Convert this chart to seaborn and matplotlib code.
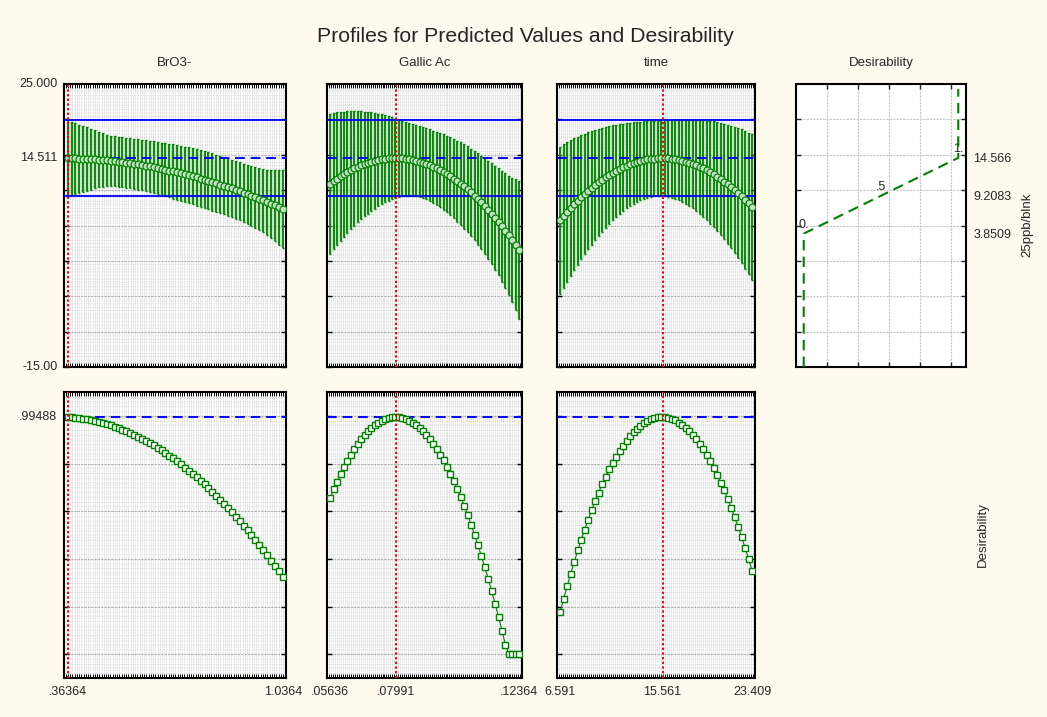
import numpy as np
import matplotlib
matplotlib.use("Agg")
import matplotlib.pyplot as plt
import seaborn as sns
from matplotlib.ticker import MultipleLocator, FixedLocator, FixedFormatter

# ---------------- data ----------------
factor_names = ["BrO3-", "Gallic Ac", "time"]
factor_lo = [0.36364, 0.05636, 6.591]
factor_hi = [1.0364, 0.12364, 23.409]
factor_current = [0.36364, 0.07991, 15.561]
factor_tick_values = [[0.36364, 1.0364], [0.05636, 0.07991, 0.12364], [6.591, 15.561, 23.409]]
factor_tick_labels = [[".36364", "1.0364"], [".05636", ".07991", ".12364"], ["6.591", "15.561", "23.409"]]
n_points = 56

bro3_mean = [14.51, 14.50, 14.48, 14.46, 14.44, 14.41, 14.37, 14.34, 14.29, 14.25,
             14.19, 14.14, 14.08, 14.01, 13.95, 13.87, 13.79, 13.71, 13.63, 13.53,
             13.44, 13.34, 13.23, 13.13, 13.01, 12.90, 12.77, 12.65, 12.52, 12.38,
             12.24, 12.10, 11.95, 11.80, 11.64, 11.48, 11.32, 11.15, 10.97, 10.79,
             10.61, 10.42, 10.23, 10.03, 9.83, 9.63, 9.42, 9.20, 8.98, 8.76,
             8.54, 8.30, 8.07, 7.83, 7.58, 7.33]
bro3_halfwidth = [5.36, 5.18, 5.00, 4.80, 4.64, 4.48, 4.30, 4.10, 3.90, 3.76,
                  3.64, 3.56, 3.53, 3.51, 3.50, 3.50, 3.51, 3.53, 3.55, 3.57,
                  3.60, 3.62, 3.65, 3.69, 3.72, 3.76, 3.80, 3.84, 3.86, 3.89,
                  3.92, 3.95, 3.97, 4.00, 4.01, 4.02, 4.02, 4.03, 4.03, 4.03,
                  4.04, 4.05, 4.06, 4.08, 4.10, 4.13, 4.17, 4.21, 4.28, 4.36,
                  4.46, 4.60, 4.82, 5.05, 5.28, 5.50]
bro3_desir = [.995, .994, .992, .990, .988, .985, .982, .979, .975, .970,
              .965, .960, .955, .949, .942, .935, .928, .920, .912, .904,
              .895, .885, .876, .865, .855, .844, .833, .821, .809, .796,
              .783, .770, .756, .742, .727, .712, .697, .681, .665, .648,
              .631, .613, .595, .577, .558, .539, .520, .500, .479, .458,
              .437, .416, .393, .371, .348, .325]

gallic_mean = [10.89, 11.26, 11.61, 11.94, 12.25, 12.54, 12.82, 13.07, 13.30, 13.51,
               13.70, 13.87, 14.02, 14.15, 14.26, 14.35, 14.42, 14.47, 14.50, 14.51,
               14.50, 14.47, 14.42, 14.35, 14.26, 14.15, 14.02, 13.87, 13.70, 13.51,
               13.30, 13.07, 12.82, 12.56, 12.27, 11.96, 11.63, 11.28, 10.91, 10.52,
               10.11, 9.68, 9.23, 8.76, 8.27, 7.76, 7.23, 6.68, 6.11, 5.52,
               4.91, 4.28, 3.63, 2.96, 2.27, 1.56]
gallic_halfwidth = [9.92, 9.65, 9.39, 9.12, 8.86, 8.61, 8.36, 8.11, 7.87, 7.64,
                    7.41, 7.18, 6.96, 6.75, 6.54, 6.34, 6.15, 5.96, 5.78, 5.61,
                    5.45, 5.31, 5.20, 5.11, 5.05, 5.01, 5.00, 5.00, 5.02, 5.06,
                    5.11, 5.17, 5.25, 5.33, 5.42, 5.52, 5.62, 5.73, 5.84, 5.96,
                    6.08, 6.20, 6.33, 6.47, 6.62, 6.78, 6.95, 7.14, 7.35, 7.58,
                    7.83, 8.11, 8.42, 8.80, 9.25, 9.80]
gallic_desir = [.657, .691, .724, .755, .784, .811, .837, .860, .882, .901,
                .919, .935, .949, .961, .971, .980, .986, .991, .994, .995,
                .994, .991, .986, .980, .971, .961, .949, .935, .919, .901,
                .882, .860, .837, .813, .786, .757, .726, .693, .659, .622,
                .584, .544, .502, .458, .412, .365, .315, .264, .211, .156,
                .099, .040, 0.0, 0.0, 0.0, 0.0]

time_mean = [5.76, 6.35, 6.92, 7.47, 8.00, 8.51, 8.99, 9.46, 9.91, 10.33,
             10.74, 11.12, 11.49, 11.83, 12.15, 12.45, 12.73, 12.99, 13.23, 13.45,
             13.65, 13.83, 13.99, 14.12, 14.24, 14.34, 14.41, 14.46, 14.50, 14.51,
             14.50, 14.47, 14.43, 14.36, 14.27, 14.15, 14.02, 13.87, 13.70, 13.50,
             13.29, 13.06, 12.80, 12.52, 12.23, 11.91, 11.57, 11.21, 10.83, 10.43,
             10.01, 9.57, 9.11, 8.63, 8.12, 7.60]
time_halfwidth = [10.39, 10.12, 9.85, 9.58, 9.31, 9.05, 8.79, 8.54, 8.29, 8.04,
                  7.81, 7.57, 7.35, 7.13, 6.92, 6.72, 6.53, 6.35, 6.18, 6.02,
                  5.88, 5.75, 5.64, 5.54, 5.46, 5.40, 5.36, 5.33, 5.33, 5.35,
                  5.38, 5.43, 5.50, 5.59, 5.70, 5.82, 5.96, 6.11, 6.27, 6.45,
                  6.63, 6.83, 7.04, 7.25, 7.47, 7.70, 7.94, 8.18, 8.43, 8.68,
                  8.93, 9.20, 9.46, 9.73, 10.00, 10.27]
time_desir = [.178, .233, .286, .338, .387, .435, .480, .523, .565, .605,
              .643, .678, .713, .745, .775, .803, .829, .853, .875, .896,
              .915, .931, .946, .958, .970, .979, .985, .990, .994, .995,
              .994, .991, .987, .981, .972, .961, .949, .935, .919, .901,
              .881, .859, .835, .809, .782, .752, .720, .687, .651, .614,
              .575, .534, .491, .446, .398, .350]

pred_current = 14.511
ci_upper_current = 19.87
ci_lower_current = 9.15
desir_current = 0.99488

resp_min, resp_max = -15.0, 25.0
resp_labels = [(25.0, "25.000"), (14.511, "14.511"), (-15.0, "-15.00")]
desir_labels = [(0.99488, ".99488")]

# desirability function (response -> desirability)
curve_desir = [0.0, 0.0, 0.5, 1.0, 1.0]
curve_resp = [-15.0, 3.8509, 9.2083, 14.566, 24.3]
anchor_resp = [3.8509, 9.2083, 14.566]
anchor_desir = [0.0, 0.5, 1.0]
anchor_text = ["0.", ".5", "1."]
anchor_tick_labels = ["3.8509", "9.2083", "14.566"]

means = [bro3_mean, gallic_mean, time_mean]
halfwidths = [bro3_halfwidth, gallic_halfwidth, time_halfwidth]
desirs = [bro3_desir, gallic_desir, time_desir]

# ---------------- style ----------------
sns.set_theme(style="white")
plt.rcParams["font.family"] = ["Liberation Sans", "DejaVu Sans"]
plt.rcParams["axes.axisbelow"] = True

BG = "#FEFAEE"
GREEN = "#008000"
BLUE = "#0000FF"
RED = "#FF0000"
TICK_FS = 9
TITLE_FS = 9.5

W, H = 1047, 717
fig = plt.figure(figsize=(W / 100, H / 100), dpi=100, facecolor=BG)


def px_axes(x0, y0, x1, y1):
    return fig.add_axes([x0 / W, 1 - y1 / H, (x1 - x0) / W, (y1 - y0) / H])


cols_px = [(64, 286), (327, 522), (557, 755)]
top_px = (84, 367)
bot_px = (392, 678)


def style_frame(ax):
    ax.set_facecolor("white")
    for s in ax.spines.values():
        s.set_linewidth(1.5)
        s.set_color("black")
        s.set_visible(True)


def style_profile(ax, k, ymajor, yminor, bottom):
    lo, hi = factor_lo[k], factor_hi[k]
    span = hi - lo
    ax.set_xlim(lo - 0.017 * span, hi + 0.015 * span)
    ax.xaxis.set_minor_locator(MultipleLocator(span / 96))
    ax.set_xticks(factor_tick_values[k])
    ax.set_xticklabels(factor_tick_labels[k] if bottom else [])
    ax.tick_params(axis="x", which="major", length=0, pad=6, labelsize=TICK_FS,
                   labelbottom=bottom)
    ax.tick_params(axis="x", which="minor", direction="in", top=True, bottom=True,
                   length=2.8, width=0.7, color="black")
    ax.yaxis.set_major_locator(MultipleLocator(ymajor))
    ax.yaxis.set_minor_locator(MultipleLocator(yminor))
    ax.tick_params(axis="y", which="major", direction="in", left=True, right=True,
                   length=3.5, width=1.0, color="black", labelleft=False)
    ax.tick_params(axis="y", which="minor", length=0)
    ax.grid(True, which="minor", axis="x", color="#c8c8c8", lw=0.55, ls=(0, (1, 1)))
    ax.grid(True, which="minor", axis="y", color="#d6d6d6", lw=0.5, ls=(0, (1, 1)))
    ax.grid(True, which="major", axis="y", color="#b0b0b0", lw=0.8, ls=(0, (2, 1)))
    ax.set_xlabel("")
    ax.set_ylabel("")
    style_frame(ax)


for k in range(3):
    x0, x1 = cols_px[k]
    xs = np.linspace(factor_lo[k], factor_hi[k], n_points)
    m = np.array(means[k])
    hw = np.array(halfwidths[k])

    # ---- top: predicted values with confidence bars ----
    ax = px_axes(x0, top_px[0], x1, top_px[1])
    ax.set_ylim(resp_min, resp_max)
    ax.fill_between(xs, m - hw, m + hw, color="#a9d8a9", alpha=0.55, lw=0, zorder=2)
    ax.errorbar(xs, m, yerr=hw, fmt="none", ecolor=GREEN, elinewidth=1.3,
                capsize=1.0, capthick=1.0, zorder=3)
    ax.axhline(ci_upper_current, color=BLUE, lw=1.3, zorder=4)
    ax.axhline(ci_lower_current, color=BLUE, lw=1.3, zorder=4)
    dl = ax.axhline(pred_current, color=BLUE, lw=1.4, ls="--", zorder=4)
    dl.set_dashes((5, 3))
    sns.lineplot(x=xs, y=m, ax=ax, color=GREEN, lw=0.9, marker="o", markersize=5.0,
                 markerfacecolor="#bfe1bf", markeredgecolor=GREEN, markeredgewidth=0.85,
                 estimator=None, sort=False, zorder=5)
    ax.axvline(factor_current[k], color=RED, lw=1.4, ls=(0, (1.2, 1.2)), zorder=6)
    style_profile(ax, k, 5, 0.5, bottom=False)
    ax.set_title(factor_names[k], fontsize=TITLE_FS, pad=13)
    if k == 0:
        for val, lab in resp_labels:
            ax.annotate(lab, xy=(0, val), xycoords=("axes fraction", "data"),
                        xytext=(-4.8, 0), textcoords="offset points",
                        ha="right", va="center", fontsize=TICK_FS)

    # ---- bottom: desirability profile ----
    axb = px_axes(x0, bot_px[0], x1, bot_px[1])
    axb.set_ylim(-0.1, 1.1)
    dl2 = axb.axhline(desir_current, color=BLUE, lw=1.4, ls="--", zorder=4)
    dl2.set_dashes((5, 3))
    sns.lineplot(x=xs, y=desirs[k], ax=axb, color=GREEN, lw=0.8, marker="s",
                 markersize=4.2, markerfacecolor="white", markeredgecolor=GREEN,
                 markeredgewidth=1.0, estimator=None, sort=False, zorder=5)
    axb.axvline(factor_current[k], color=RED, lw=1.4, ls=(0, (1.2, 1.2)), zorder=6)
    style_profile(axb, k, 0.2, 0.02, bottom=True)
    if k == 0:
        for val, lab in desir_labels:
            axb.annotate(lab, xy=(0, val), xycoords=("axes fraction", "data"),
                         xytext=(-4.8, 0), textcoords="offset points",
                         ha="right", va="center", fontsize=TICK_FS)

# ---- desirability function panel ----
ax4 = px_axes(796, top_px[0], 966, top_px[1])
ax4.set_xlim(-0.05, 1.05)
ax4.set_ylim(resp_min, resp_max)
sns.lineplot(x=curve_desir, y=curve_resp, ax=ax4, color=GREEN, lw=1.5,
             estimator=None, sort=False, zorder=5)
ax4.lines[-1].set_dashes((5, 3))
for d, r, t in zip(anchor_desir, anchor_resp, anchor_text):
    ax4.annotate(t, xy=(d, r), xytext=(0, 2), textcoords="offset points",
                 ha="center", va="bottom", fontsize=TICK_FS)
ax4.set_xticks([0.15, 0.35, 0.55, 0.75, 0.95])
ax4.tick_params(axis="x", which="major", direction="in", top=True, bottom=True,
                length=3.5, width=1.0, labelbottom=False)
ax4.yaxis.set_major_locator(FixedLocator([-10, -5, 0, 5, 10, 15, 20]))
ax4.tick_params(axis="y", which="major", direction="in", left=True, right=True,
                length=3.5, width=1.0, labelleft=False)
ax4.yaxis.set_minor_locator(FixedLocator(anchor_resp))
ax4.yaxis.set_minor_formatter(FixedFormatter(anchor_tick_labels))
ax4.tick_params(axis="y", which="minor", length=0, left=False, right=False,
                labelleft=False, labelright=True, pad=5.3, labelsize=TICK_FS)
ax4.grid(True, which="major", color="#c6c6c6", lw=0.8, ls=(0, (2, 1)))
ax4.set_xlabel("")
ax4.set_ylabel("")
style_frame(ax4)
ax4.set_title("Desirability", fontsize=TITLE_FS, pad=13)

# ---- titles / side labels ----
fig.text(0.502, 1 - 42 / H, "Profiles for Predicted Values and Desirability",
         ha="center", va="baseline", fontsize=15.3)
fig.text(1027 / W, 1 - 225 / H, "25ppb/blnk", rotation=90, ha="center",
         va="center", fontsize=TITLE_FS)
fig.text(983 / W, 1 - 535 / H, "Desirability", rotation=90, ha="center",
         va="center", fontsize=TITLE_FS)

fig.savefig("out.png", dpi=100, facecolor=BG)
